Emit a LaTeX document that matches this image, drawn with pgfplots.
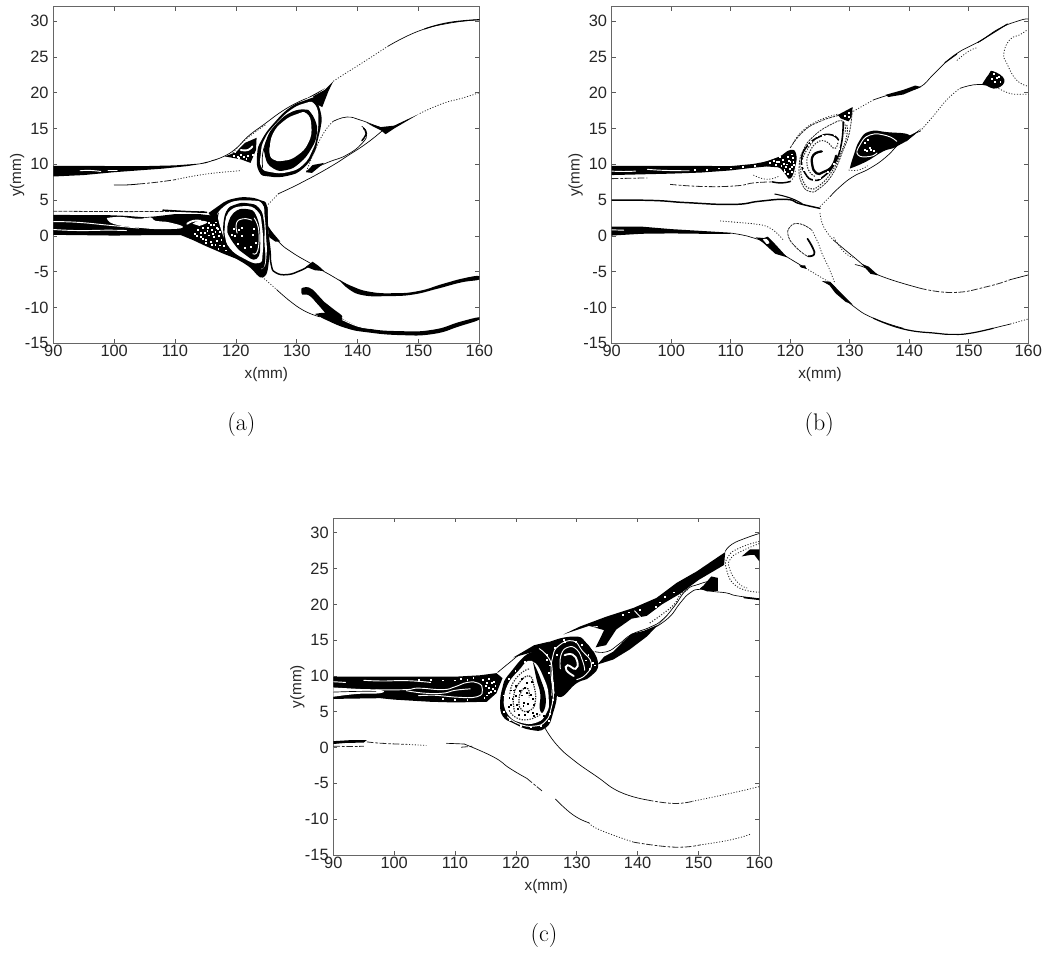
\documentclass[border=0pt]{standalone}
\usepackage{pgfplots}
\pgfplotsset{compat=1.18}
\usepackage{fontspec}
\setmainfont{Liberation Sans}
\newfontfamily\lmfont{Latin Modern Roman}
\pgfplotsset{
 B/.style={fill=black,draw=none,smooth,tension=0.85},
 P/.style={fill=black,draw=none},
 W/.style={fill=white,draw=none,smooth,tension=0.85},
 L/.style={black,line width=0.5pt,smooth,tension=0.85,line cap=round},
 M/.style={black,line width=1.1pt,smooth,tension=0.85,line cap=round},
 T/.style={black,line width=2pt,smooth,tension=0.85,line cap=round},
 D/.style={black!85,line width=0.6pt,smooth,tension=0.85,dash pattern=on 0.8pt off 1.3pt},
 DL/.style={black!85,line width=0.6pt,smooth,tension=0.85,dash pattern=on 5pt off 1.5pt on 2pt off 1.2pt},
 WL/.style={white,line width=0.7pt,smooth,tension=0.85,line cap=round},
 WT/.style={white,line width=1.4pt,smooth,tension=0.85,line cap=round},
 SW/.style={only marks,mark=square*,mark size=0.33pt,mark options={white,draw=white}},
 SB/.style={only marks,mark=square*,mark size=0.33pt,mark options={black,draw=black}},
 panel/.style={
  scale only axis,anchor=south west,
  xmin=90,xmax=160,ymin=-15,ymax=32,
  xtick={90,100,...,160},ytick={-15,-10,...,30},
  tick align=inside,xtick pos=both,ytick pos=both,
  major tick length=3pt,
  tick style={black!65,line width=0.5pt},
  axis line style={black!60,line width=0.6pt},
  tick label style={font=\fontsize{12.3}{13}\selectfont,text=black!85},
  /pgf/number format/assume math mode=true,
  /pgf/number format/.cd,1000 sep={},/tikz/.cd,
  xticklabel style={yshift=2pt},
  xlabel={x(mm)},ylabel={y(mm)},
  label style={font=\fontsize{11.5}{12}\selectfont,text=black!85},
  xlabel style={yshift=-1pt},
  ylabel style={yshift=-6.5pt},
 }
}
\begin{document}
\begin{tikzpicture}[x=1pt,y=1pt]
\path[use as bounding box] (0,0) rectangle (790.5,715.5);
%% ---------- PANEL A ----------
\begin{axis}[panel,at={(40pt,458pt)},width=319.5pt,height=252.4pt]
% upper-left band
\addplot[P] coordinates {(90,9.8)(95,9.8)(100,9.75)(105,9.75)(110,9.85)(114,10.1)(116,10.5)(117,10.7)(115,10.15)(112,9.75)(108,9.4)(104,9.15)(100,8.9)(95,8.5)(90,8.3)};
\addplot[WL] coordinates {(94.4,9.1)(96,9.15)(97.8,9)};
\addplot[WL] coordinates {(99,9.2)(100.5,9.2)};
\addplot[L] coordinates {(116,10.5)(118,11.1)(120,12.2)(122,13.9)(124.5,15.5)(128.3,17.8)(131.6,19.2)};
\addplot[D] coordinates {(119.5,11.6)(121,13)(123,14.4)(125,15.6)};
% small triangle blob
\addplot[P] coordinates {(118.2,11.1)(120,11.7)(121.5,13)(123.4,13.7)(123.3,12)(122.4,10.2)(120.8,10.7)(119.5,10.9)};
\addplot[WT] coordinates {(120.8,12)(122,12)(122.7,12.5)};
\addplot[SW] coordinates {(119.7,11.2)(120.3,11.1)(120.8,11.3)(121.3,11.1)(122,11.2)(119.9,11.8)(122.8,11.3)(120.5,10.9)(121.7,10.8)};
% big upper vortex
\addplot[B] coordinates {(131.6,19.2)(133,19.7)(134.6,20.6)};
\addplot[P] coordinates {(132.7,19.5)(134.6,20.4)(136,21.6)(135.2,20.2)(134.2,18)(133,18.5)};
\addplot[B] coordinates {(133,19.4)(134,17)(133.9,15)(133.5,13.6)(132.8,11.5)(131,9.4)(128.5,8.4)(125.5,8.3)(123.8,9)(123.5,11.5)(124.3,13.5)(126.3,15.8)(129,18)(131.6,19)(133,19.4)};
\addplot[W] coordinates {(132.5,18.7)(133.35,17.8)(133.55,16)(133.3,14)(132.6,12)(131,9.9)(128.5,8.9)(125.8,8.9)(124.2,9.6)(124.1,11.5)(124.7,13.5)(126.5,15.6)(129.2,17.7)(131.6,18.6)(132.5,18.7)};
\addplot[L] coordinates {(124.4,9.5)(124.4,11.5)(125.1,13.4)};
\addplot[B] coordinates {(131.9,17.6)(133,16.2)(133.3,14.3)(132.4,12.2)(130.5,10.2)(128.3,9.2)(126.1,9.45)(124.8,11.1)(125,13.4)(126.7,15.7)(129.4,17.4)(131.9,17.6)};
\addplot[W] coordinates {(125.6,12.5)(126.1,14.3)(127.8,16)(130,17)(131.6,17.1)(132.4,15.4)(131.9,13)(130,11.2)(127.8,10.5)(126.1,10.7)(125.5,11.7)(125.6,12.5)};
% right lobe
\addplot[D] coordinates {(125.3,4.4)(127,5.9)};
\addplot[L] coordinates {(127,5.9)(130,7.1)(132.7,8.3)(136,9.9)(138.2,11.1)(141.5,12.95)(144.2,14.8)};
\addplot[D] coordinates {(131.6,9)(133,12)(134.6,14.6)(136,16)};
\addplot[L] coordinates {(136,16)(138.2,16.6)(140.4,16.2)(142.6,15.5)(144.2,15)};
\addplot[L] coordinates {(131.6,9)(135.2,10.3)(138.2,11.3)(140.7,12.9)(141.5,14.3)(140.7,15.3)};
\addplot[M] coordinates {(140.7,13.3)(141.4,14.3)(141,15)};
\addplot[P] coordinates {(131.5,8.9)(132.6,9.9)(134.5,10.2)(133.5,9.5)(132.5,8.8)};
\addplot[P] coordinates {(141.5,15.8)(143.8,15.2)(146,15.4)(150,17)(146,15)(144.6,14.2)(143.9,14.7)(142.5,15.3)};
\addplot[D] coordinates {(150.2,17.1)(154,18.5)(157,19.2)(160,20)};
% outer top-right line
\addplot[D] coordinates {(136,21.6)(138,22.7)(141,24.3)(145,26.5)};
\addplot[L] coordinates {(145,26.5)(150,28.6)(155,29.7)(160,30.2)};
\addplot[M,line width=0.8pt] coordinates {(151,28.9)(155,29.8)(160,30.2)};
% thin line from the channel
\addplot[M,line width=0.6pt] coordinates {(100,7.12)(102,7.12)(104,7.25)};
\addplot[DL] coordinates {(104,7.25)(107,7.5)(110,7.85)};
\addplot[D] coordinates {(110,7.85)(115.2,8.65)(120.7,9.1)};
% lower band
\addplot[D,dash pattern=on 3pt off 0.8pt] coordinates {(90,3.45)(100,3.4)(105,3.4)(110,3.4)(115,3.4)};
\addplot[M] coordinates {(108,3.6)(112,3.4)(115.2,3.3)};
\addplot[P] coordinates {(90,2.95)(95,2.9)(99,2.9)(102,2.8)(105,2.6)(107,2.75)(110,3.05)(114,3.05)(116.5,2.8)(118,0)(119.5,-2)(121,-3.5)(118,-2.5)(115,-1.4)(113,-0.6)(111,0.1)(105,0.1)(100,0.05)(95,0.1)(90,0.15)};
% white wedge and streaks in band
\addplot[W] coordinates {(98.8,2.5)(101,2.65)(104,2.4)(106,2.6)(106.8,2.1)(109,1.9)(111.3,1.2)(108,0.95)(104,1.15)(100,1.65)(98.8,2.5)};
\addplot[WL] coordinates {(90,2)(94,1.9)(99,1.5)(104,1.1)};
\addplot[WL] coordinates {(90,0.9)(94,0.75)(99,0.8)(102,0.75)};
\addplot[WT] coordinates {(112,1.7)(113,2.1)(114.2,2.1)};
% lower vortex
\addplot[B] coordinates {(115.5,3.2)(117,4.1)(118,4.7)(119.6,5.2)(121.8,5.4)(124,5)(125.1,4.2)(125.2,1.5)(125.4,-1)(125.5,-3)(124.5,-5.8)(122,-4.2)(119,-2.5)(117,-0.5)(116.5,2)};
\addplot[W] coordinates {(116.9,3.1)(118.5,4.4)(120.5,4.95)(122.5,4.95)(124.3,4.5)(124.75,2.5)(124.95,0)(125.05,-2.5)(124.5,-4.5)(123,-4)(120.5,-2.7)(118.7,-1.3)(117.6,0.8)(116.9,3.1)};
\addplot[M,line width=0.8pt] coordinates {(117.1,3.2)(117,1.5)(118,-0.5)(120,-2.4)};
\addplot[B] coordinates {(117.9,1)(118.4,3.4)(120,4.4)(122,4.55)(123.8,3.9)(124.6,2)(124.7,-1)(124.8,-3.5)(124,-4.6)(121.5,-3.7)(119,-2)(118,-0.3)};
\addplot[W] coordinates {(118.2,1.2)(118.8,3.3)(121.2,4.15)(123.5,3.5)(124.3,1.3)(124.4,-2.4)(123.7,-3.8)(121.2,-3.1)(119,-1.7)(118.2,0)(118.2,1.2)};
\addplot[B] coordinates {(118.6,1.3)(119.6,3.2)(121.8,3.75)(123.4,2.7)(124,-0.6)(123.4,-3.2)(121.2,-2.4)(119.6,-1)(118.6,0.5)};
\addplot[WL] coordinates {(123,2.5)(123.75,0.8)(123.6,-2)(122.8,-2.5)};
\addplot[WL] coordinates {(120.2,0.4)(120.1,1.8)(121.2,2.4)(122.6,2.2)};
\addplot[SW] coordinates {(120.5,0.8)(120.9,0)(121,1.2)(119.6,1)(119.3,0.2)(122.9,1)(122.8,0.2)(123.2,-1)(122.5,-1.5)(121.5,-1.7)(120.3,-1.1)(119.8,0)};
% stipple left of the vortex
\addplot[W] coordinates {(112.9,1.7)(114,2.1)(115.3,1.9)(114,1.4)};
\addplot[SW] coordinates {(113.2,0.3)(113.8,0.9)(114.2,-0.1)(114.5,1.1)(114.9,0.4)(115,-0.5)(115.4,1.2)(115.6,0.1)(115.9,-0.8)(116,0.9)(116.3,1.6)(116.4,-0.1)(116.6,0.6)(116.9,-0.7)(117,1)(117.2,0)(117.3,-1.3)(115.5,1.8)(116.7,1.9)(114.2,0.4)(115.1,-1)(116.1,-1.2)(117.6,-0.5)(118,-1.4)(113.6,0)(114.6,-0.4)(115.3,0.7)(115.8,1.5)(116.2,0.3)(116.8,1.2)(117.4,0.6)(116.6,-1.2)(117.1,-1.8)(118.4,-2)};
% right side of lower lobe
\addplot[M] coordinates {(125.1,4)(125.2,1)(125.6,-2)(125.8,-4)(126.5,-5.1)(128.5,-5.4)(130.7,-4.8)(132.6,-4.1)(134,-4.8)};
\addplot[P] coordinates {(125.2,1.4)(126,0.5)(127.3,-0.8)(126.5,-0.8)(125.5,-0.2)};
\addplot[L] coordinates {(125.3,1.3)(127,-0.8)(129.4,-2.4)(132.2,-3.8)(134,-4.75)};
\addplot[P] coordinates {(131.5,-4.3)(132.6,-3.6)(133.6,-4.2)(134.5,-4.9)(133,-4.8)};
% right branch
\addplot[L] coordinates {(134,-4.75)(136,-5.7)(138.7,-7.1)};
\addplot[B] coordinates {(137,-6.1)(139,-7)(142,-7.8)(146,-8)(150,-7.7)(154,-6.7)(157.5,-5.9)(160,-5.6)(160,-6.1)(157,-6.5)(153,-7.4)(149,-8.2)(145,-8.4)(141,-8.3)(138.5,-7.4)(137,-6.1)};
% lower outer line
\addplot[D] coordinates {(124.3,-5.7)(126.7,-7.5)};
\addplot[L] coordinates {(126.7,-7.5)(130.5,-10.1)(133.8,-11.3)};
\addplot[B] coordinates {(130.8,-7.3)(132,-7.2)(133.2,-8)(134.5,-9.2)(136,-10.2)(137.5,-11.3)(136,-11.4)(135,-11)(133.5,-9.6)(132,-8.3)(130.9,-8.2)(130.8,-7.3)};
\addplot[B] coordinates {(133,-10.9)(136,-10.8)(138.2,-11.9)(141.5,-12.9)(147,-13.3)(152.4,-13.1)(156.8,-12)(160,-11.35)(160,-11.7)(156.8,-12.6)(152.4,-13.7)(147,-13.85)(141.5,-13.45)(138.2,-12.9)(135,-11.8)(133,-10.9)};
\addplot[WL] coordinates {(137.5,-11.7)(140,-12.6)(142,-12.9)};
\end{axis}
\node[font=\lmfont\fontsize{18}{20}\selectfont] at (181,397) {(a)};
%% ---------- PANEL B ----------
\begin{axis}[panel,at={(458.8pt,458pt)},width=312.4pt,height=252.4pt]
\addplot[P] coordinates {(90,9.8)(100,9.8)(110,9.75)(113.8,10.05)(116,10.4)(118,11)(119.5,9.5)(116,9.7)(113,9.45)(110,9.15)(105,8.85)(100,8.7)(90,8.5)};
\addplot[WL] coordinates {(90,9.05)(92,9.0)(94,9.05)};
\addplot[WL] coordinates {(96,9.3)(99,9.15)(103,9.1)};
\addplot[SW] coordinates {(104,9.3)(106,9.3)(108,9.45)(110,9.45)(112,9.65)(114,9.75)};
\addplot[DL] coordinates {(90,8)(93,8.05)(96,8.1)};
% stipple at the junction
\addplot[B] coordinates {(115.5,10.3)(118,11)(120,12)(121,11.4)(120.8,9.6)(120,8)(119,8.8)(118,9.6)(116,9.9)};
\addplot[SW] coordinates {(116.5,10.2)(117.3,10.5)(117.6,9.9)(118.1,10.4)(118.5,9.8)(118.8,10.6)(119,9.2)(119.4,10)(119.6,11)(119.9,9.4)(120,10.3)(120.4,10.9)(120.3,9)(120.6,9.9)(119.1,8.9)(118.2,11)(117.7,10.3)(118.9,10.1)(119.3,9.6)(119.7,10.5)(120.2,11.4)(120.2,9.7)(120.5,10.3)(119.6,8.7)};
\addplot[M] coordinates {(117,7.55)(118.5,7.4)(120,7.6)};
\addplot[D] coordinates {(120,7.6)(120.8,8.6)(120.6,9.8)};
\addplot[DL] coordinates {(99.8,7.2)(105.4,6.9)(111,7)(113.8,7.4)(117,7.55)};
\addplot[D] coordinates {(113.8,8.5)(116,7.9)(118,8.3)};
% middle band
\addplot[T,line width=1.1pt] coordinates {(90,5)(97,4.95)(102.6,4.65)(110.4,4.4)(114.9,4.85)(119.4,5.1)(121.6,4.5)(125,3.85)};
\addplot[M,line width=0.8pt] coordinates {(117.4,5.85)(120,5.3)(122,4.5)};
% lower band
\addplot[P] coordinates {(90,1.3)(95,1.3)(100,0.95)(105,0.7)(110,0.45)(110,0.3)(105,0.3)(100,0.35)(95,0.3)(90,0.05)};
\addplot[WL] coordinates {(90,0.85)(92,0.8)};
\addplot[L] coordinates {(110,0.4)(112.7,0)(114.9,-0.55)(117.2,-1.7)(119.4,-2.9)(122.2,-4.3)};
\addplot[D] coordinates {(122.2,-4.3)(125,-5.7)(126.7,-6.5)};
\addplot[L] coordinates {(126.7,-6.5)(128.4,-8)(130.6,-9.8)(134,-11.5)(139,-12.9)};
\addplot[P] coordinates {(114.2,-0.2)(115.6,-0.3)(116.2,-0.1)(117.3,-1)(119.5,-3)(117.5,-2.5)(115.5,-1)};
\addplot[W] coordinates {(115.4,-0.5)(116,-0.4)(116.5,-1)(116,-1.1)};
\addplot[P] coordinates {(121.5,-4.1)(122.5,-4.1)(122.7,-4.6)(121.8,-4.4)};
\addplot[P] coordinates {(125.3,-6.3)(126.7,-6.4)(128,-7.5)(130.5,-9.6)(129.3,-9.2)(127.6,-8)(126.6,-6.9)};
\addplot[M,line width=0.9pt] coordinates {(134,-11.5)(139,-13)(144.6,-13.6)(147.4,-13.75)(150.2,-13.6)(154.1,-12.9)};
\addplot[L] coordinates {(154.1,-12.9)(157,-12.3)};
\addplot[D] coordinates {(157,-12.3)(160,-11.6)};
% line to the right of the small spiral
\addplot[D] coordinates {(125,3.2)(125.6,1.3)(127.2,-0.55)};
\addplot[L] coordinates {(127.2,-0.55)(130.6,-2.9)(133.4,-4.75)(136.2,-5.9)(141.8,-7.3)};
\addplot[DL] coordinates {(141.8,-7.3)(147.4,-7.9)(153,-7.1)(157,-6.1)};
\addplot[L] coordinates {(157,-6.1)(160,-5.45)};
\addplot[L] coordinates {(130.9,-4)(132.8,-4.5)(134.5,-5.45)};
\addplot[P] coordinates {(132,-3.9)(133.2,-4.3)(134.8,-5.5)(133.5,-5.3)};
\addplot[D] coordinates {(123.6,0.85)(124.7,-1)(125.4,-2.6)(126.4,-4.3)(127.5,-6.6)};
\addplot[D] coordinates {(108.2,2.1)(111,1.9)(113.8,1.7)(116.6,1.1)(118.8,-0.55)};
\addplot[D,dash pattern=on 2pt off 0.6pt] coordinates {(122.8,-2.8)(121.1,-1.7)(119.7,-0.1)(120,1.3)(121.6,1.7)(123.6,0.85)};
\addplot[T,line width=1.3pt] coordinates {(122.9,-0.4)(123.8,-1.7)(124,-2.6)(123,-2.85)};
\addplot[D] coordinates {(127.3,-0.2)(129,-2.2)(130.5,-3)};
% upper bounds
\addplot[D,dash pattern=on 2pt off 0.7pt] coordinates {(120,12.3)(122.2,14.6)(125,16)(128.4,16.9)(130.6,17.4)};
\addplot[D] coordinates {(120.5,13)(122.2,14.8)(125,16.2)(128,17)};
\addplot[P] coordinates {(128,16.9)(130.5,18)(130.3,16.6)(129.8,16)(128.5,16.4)};
\addplot[SW] coordinates {(129.2,16.8)(129.8,16.6)(129.9,17.2)};
\addplot[D] coordinates {(130.6,17.4)(132.5,18.3)(134,19)};
\addplot[L] coordinates {(134,19)(136.2,19.6)(139,20.2)(141.8,20.8)(144,22.5)(146.3,24.4)(149,26)(151.9,27.2)(155.2,29)(158.6,30.1)(160,30.3)};
\addplot[P] coordinates {(136,19.7)(139,20.4)(141,21)(142,20.8)(139,19.75)(136.5,19.4)};
\addplot[M,line width=0.8pt] coordinates {(146,24.2)(148,25.4)};
\addplot[M,line width=0.8pt] coordinates {(151.5,27)(154,28.3)(156.5,29.6)};
\addplot[D] coordinates {(148,24.5)(150,25.8)(151.5,26.3)};
% lower bound of the cusp region
\addplot[D] coordinates {(125,4.1)(126.7,5.5)};
\addplot[L] coordinates {(126.7,5.5)(128.4,6.9)(130.6,8.3)(133.4,9.45)(136.2,11.1)(139,13.4)(141.8,14.6)};
\addplot[D] coordinates {(141.8,14.6)(144,16.7)(146.3,19)(148.5,20.6)};
\addplot[L] coordinates {(148.5,20.6)(150.8,21.1)(153,21.1)};
\addplot[P] coordinates {(138,13.7)(140.5,14.1)(142,15)(141,14.2)(139.5,13.2)};
% upper vortex
\addplot[D,dash pattern=on 1.5pt off 0.7pt] coordinates {(130.4,17.2)(129.9,14.3)(128.9,12)(127.2,8.75)(125,6.7)(123.3,6.2)(121.9,7.4)(121.5,9.7)(122.2,12)(123.9,13.9)(126.7,15.5)(128.9,16)(129.2,14.3)};
\addplot[D,line width=0.8pt,dash pattern=on 1pt off 1pt] coordinates {(129.5,15.5)(129.5,14)(128.5,11.5)(127,9)(125,7.1)(123.4,6.6)(122.2,7.6)(121.8,9.5)(122.5,11.6)(124.2,13.5)};
\addplot[T,line width=1.2pt] coordinates {(128.9,15.9)(128.6,12.9)(127.5,10.2)(125.6,8.3)(123.9,7.8)(122.5,8.75)(121.9,10.6)(122.8,12.5)(125,13.9)(127,14.1)(128.1,13.4)};
\addplot[SW] coordinates {(124.5,14)(125.5,13.95)(123.5,13.1)(122.7,12)(122.1,10.5)(122.3,9.3)(127.3,10.1)(128.2,12.2)(126.3,8.9)(126.2,14)(127.4,14.1)(123.1,12.7)(122,9.8)(124,7.8)(125,8.1)};
\addplot[T,line width=1.7pt] coordinates {(127.7,11.2)(127,9.7)(125.5,8.9)(124.4,8.75)(123.7,9.9)(123.9,11.3)(125.3,11.8)};
\addplot[D,line width=0.8pt,dash pattern=on 1pt off 1pt] coordinates {(128,13)(127.4,12.2)(126,13.2)(124.4,13)(123.2,11.6)(122.8,10.4)(123.2,9)(124.2,8.3)};
% right blob
\addplot[B] coordinates {(130,9.4)(130.6,11.1)(131.7,13.4)(133.4,14.6)(136.2,14.5)(140.1,14)(137.9,12.5)(135.6,11.8)(132.8,10.4)(130,9.4)};
\addplot[WL] coordinates {(137.9,13.2)(136.2,14)(133.4,14.1)(131.7,12.7)(131.4,11.3)(133.4,11.1)(134.6,11.6)};
\addplot[SW] coordinates {(132.5,13)(133,13.4)(132.5,12)(133.3,12.3)(132.9,11.9)(133.6,12)(134,11.9)};
\addplot[D] coordinates {(129.8,9.2)(131.5,9.2)(133,9.8)};
% far-right vortex
\addplot[B] coordinates {(152.2,21.1)(153.3,22.5)(154.1,23)(156,21.8)(154.7,20.6)(153,21)};
\addplot[SW] coordinates {(154.2,22.6)(154.7,22.1)(155,22.2)(153.9,21.9)(154.4,21.5)(155.3,21.5)};
\addplot[D] coordinates {(155,20.6)(156.9,19.9)(158.5,19.8)(160,19.8)};
\addplot[D] coordinates {(159.7,28.7)(158.6,28.1)(156.9,27.4)(155.9,25.5)(156.4,24.1)(158,21.8)(160,20.9)};
\end{axis}
\node[font=\lmfont\fontsize{18}{20}\selectfont] at (614.5,397) {(b)};
%% ---------- PANEL C ----------
\begin{axis}[panel,at={(250pt,74.25pt)},width=319.5pt,height=252.4pt]
% channel band
\addplot[P] coordinates {(90,9.9)(100,9.9)(110,9.9)(114.1,10.1)(116.8,10.4)(117.8,9.7)(116.8,7.6)(115.2,6.4)(110,6.3)(105.9,6.4)(100,6.7)(97.7,6.9)(90,6.8)};
\addplot[W] coordinates {(90,8.4)(94,8.2)(97.7,8.05)(97.7,7.6)(94,7.5)(90,7.1)};
\addplot[L] coordinates {(90,7.75)(94,7.85)(97,7.85)};
\addplot[WL] coordinates {(90,9.2)(92,9.1)};
\addplot[WL] coordinates {(95,9.4)(98,9.3)(102,9.35)(106,9.1)};
\addplot[WL] coordinates {(97,8.05)(102,8.1)(104,8.3)(108,8.1)(110,8.5)(112,9.1)(113.8,9)(114.5,8.1)(113.6,7.1)(110,7.05)(107,7.3)(104,7.25)};
\addplot[WL] coordinates {(102,7.95)(105,7.6)(108,7.6)(110,8)(112.5,8.2)};
\addplot[SW] coordinates {(106,9.5)(108,9.4)(110,9.4)(112,9.5)(114.5,9.5)(115.2,9)(115.6,8.4)(115.8,7.8)(116.4,9.2)(116.6,8.6)(115.2,7.3)(114.8,6.9)(112,6.7)(110,6.7)(108,6.8)(115.6,9.6)(116,9.1)(116.2,8.2)(115,8.6)(115.5,7.6)(116.5,7.9)(113,9.7)(111,9.6)(104,9.5)};
% left vortex
\addplot[B] coordinates {(117.4,5.7)(117.7,8.1)(119,10.4)(122.9,13.4)(125.6,11.3)(126.7,8.1)(126.1,4.8)(124.8,2.7)(122.3,2.5)(119.6,3.4)(117.9,4.3)(117.4,5.7)};
\addplot[W] coordinates {(118,6.2)(118.5,8.5)(120.4,10.7)(122.6,12.1)(124.7,9.5)(125.4,6.7)(125,4.8)(123.4,3.5)(120.7,3.5)(118.7,4.6)(118,6.2)};
\addplot[B] coordinates {(122.8,12)(124,9.7)(124.9,7)(124.5,5)(123.9,5.5)(124,7.5)(123.4,9.5)(122.8,12)};
\addplot[WL] coordinates {(125.9,10)(126.2,8)(125.8,5.5)(124.9,3.7)(123,3)(120.5,3.3)(118.6,4.3)};
\addplot[SW] coordinates {(118,7.3)(118.8,9.6)(119.9,10.7)(121.4,12)(126,9)(126,6.7)(125.6,4.7)(122.4,2.9)(120.8,3)(119,3.9)(118,5)(124.1,3.1)(125.4,3.8)};
\addplot[D,line width=0.9pt,dash pattern=on 1pt off 0.8pt] coordinates {(119.8,5)(119.6,7)(120.5,9)(122.2,10)(123,8.5)(123.2,6.5)(122.5,5.3)(121,5.2)(120.5,6.5)(121,8)(122,8.2)(122.2,7)};
\addplot[D,line width=0.8pt,dash pattern=on 1pt off 1pt] coordinates {(118.9,5.2)(120,4.2)(122,3.9)(124,4.6)};
\addplot[D,line width=0.8pt,dash pattern=on 1pt off 1pt] coordinates {(119,7.5)(119.5,9)(121,10.5)(122.3,11)};
\addplot[SB] coordinates {(121,7.3)(121.5,8.4)(121.8,7.7)(121.3,6.2)(122,6.1)(120.7,7.9)(120,7.2)(122.5,7.4)(122.6,9.2)(121,9.6)(120.2,6)(121.8,9)(122,5)(123,4.5)(119.2,6)(119.4,6.8)(118.8,5.7)(120,8.6)(120.5,4.6)(121.5,4.6)(122.8,4.9)(123.5,4.7)(124.6,4.4)(123,6)(122.7,6.8)(121.2,5.9)(119.6,8)(119.2,8)(118.9,7)(120.3,5.4)};
% middle vortex block
\addplot[B] coordinates {(122.9,13.4)(125,14.6)(129.4,15.5)(131.6,14.6)(133.5,11.8)(132.2,9.9)(130,9)(127,7.1)(125.9,10.4)(122.9,13.4)};
\addplot[WL] coordinates {(125.9,7.3)(126,10.5)(125.4,12.5)(123.7,13.9)};
\addplot[WL] coordinates {(126.3,7.6)(125.8,10)(126,12.5)(127,14.2)(129.4,14.9)(130.9,13.5)(132.4,11.8)(131.5,10.2)(130,9.5)};
\addplot[WT] coordinates {(128,12.9)(129.3,13)(130.1,12)(129.8,11)(128.5,11.5)(128.3,10.8)(129.5,10)};
\addplot[WL] coordinates {(127.3,11)(127.4,12.9)(128.5,14)(130,13.7)(131,12)(131.3,10.8)};
\addplot[SW] coordinates {(125,13)(125.5,11.5)(126.7,13)(131.5,12.2)(132.2,11)(131.9,13)(130.8,14.4)(129.8,14.8)(128,14.8)(125,12.3)(125.4,10.5)(126.4,14)(127.8,15)(132.6,11.8)(133,11.5)};
% top filament
\addplot[L] coordinates {(117,10.5)(119,11.9)(120.7,13)(123.4,14.1)};
\addplot[P] coordinates {(119.6,12.6)(123,14.3)(125.5,14.8)(123,13.4)};
% big upper black streak
\addplot[P] coordinates {(127.8,15.8)(130.5,16.9)(134.9,18.3)(139.3,19.5)(143.1,20.9)(146.4,23)(149.7,24.6)(153,26.5)(154.4,27.3)(154.2,25.5)(152.4,24.6)(150,23.4)(147,21.5)(144,20)(141.5,18.4)(139,18)(136.5,16.5)(134.8,14.3)(133.1,14)(134.5,16.4)(132,17)};
\addplot[WL] coordinates {(129,15.8)(131.5,16.6)(133.4,16.9)};
\addplot[WT] coordinates {(131.8,16.2)(133,15.9)(132.9,15.3)(132.2,14.6)(132.8,13.6)};
\addplot[WL] coordinates {(139.5,19.1)(140.5,18.2)(141.5,17.3)};
\addplot[SW] coordinates {(138.5,18.9)(137.6,18.6)(140.3,19.3)(143,19.7)(143.6,20.3)(144.5,21.1)(146,21.7)};
% lower black
\addplot[P] coordinates {(133.4,11.6)(134.5,12.7)(136,13.4)(137.5,14.7)(139,15.9)(141,16.3)(143.5,17.2)(145,18.5)(143.1,16.9)(141.5,15.5)(138.7,13.7)(136,12.3)};
\addplot[L] coordinates {(143.1,16.9)(145.3,18.3)(147,20.2)(148.6,21.6)(150.2,22.1)(152.4,21.8)(154.6,21.6)(156.3,21.2)(160,20.8)};
\addplot[L] coordinates {(133,13.4)(135,13.4)(137,14.5)(139,15.8)(142,16.8)(144,17.8)(146,19.7)(148,22)(150,22.8)(152,23.3)};
\addplot[D,line width=0.8pt] coordinates {(142,17.4)(144,18.6)(146,20)(147,21.3)(148.5,22.2)};
\addplot[P] coordinates {(150.2,22.2)(150.8,22.6)(152.1,23.9)(153.2,23.7)(153.2,21.9)(151.5,21.8)};
% right circle
\addplot[L] coordinates {(154.4,27.4)(155.5,28.4)(157.9,29.3)(160,29.9)};
\addplot[D,line width=0.7pt] coordinates {(160,28.8)(156.8,27.9)(154.9,26.7)(154.6,24.9)(156.3,22.5)(160,21.7)};
\addplot[D] coordinates {(160,28.5)(157,27.4)(155.3,26.4)(155.1,25)(156.5,23)(158,22.3)};
\addplot[P] coordinates {(157.1,26.7)(158.5,27.7)(160,27.7)(160,26)(159.2,26.9)(158.5,26.9)};
\addplot[M] coordinates {(157.5,20.95)(160,20.7)};
% lower lines
\addplot[P] coordinates {(90,0.9)(93,1.05)(95.5,1.05)(95,0.7)(92,0.65)(90,0.5)};
\addplot[DL] coordinates {(90,0.2)(93,0.15)(95,0.2)};
\addplot[DL] coordinates {(95.5,0.8)(98,0.6)(102,0.45)};
\addplot[D] coordinates {(102,0.45)(105.3,0.3)};
\addplot[L] coordinates {(108.6,0.6)(111.5,0.5)};
\addplot[DL] coordinates {(111,0.05)(113,0.2)};
\addplot[L] coordinates {(111.5,0.5)(116.3,-1.3)(119,-2.9)(121.8,-4.3)};
\addplot[DL] coordinates {(121.8,-4.3)(124.5,-6.2)};
\addplot[L] coordinates {(126.5,-7.2)(129.4,-9.4)(132,-10.5)};
\addplot[D] coordinates {(132,-10.5)(133.8,-11.5)(139.3,-13.2)};
\addplot[DL] coordinates {(139.3,-13.2)(145.9,-13.9)(150.2,-13.6)};
\addplot[D] coordinates {(150.2,-13.6)(155.2,-12.9)(158.5,-12.1)};
\addplot[L] coordinates {(124.8,2.7)(126.7,0.4)(129.4,-1.7)(133.3,-4.05)(137.1,-6.2)(141.5,-7.3)};
\addplot[DL] coordinates {(141.5,-7.3)(145.9,-7.8)(149,-7.5)};
\addplot[D] coordinates {(149,-7.5)(155.2,-6.4)(160,-5.45)};
\end{axis}
\node[font=\lmfont\fontsize{18}{20}\selectfont] at (408,13.5) {(c)};
\end{tikzpicture}
\end{document}
